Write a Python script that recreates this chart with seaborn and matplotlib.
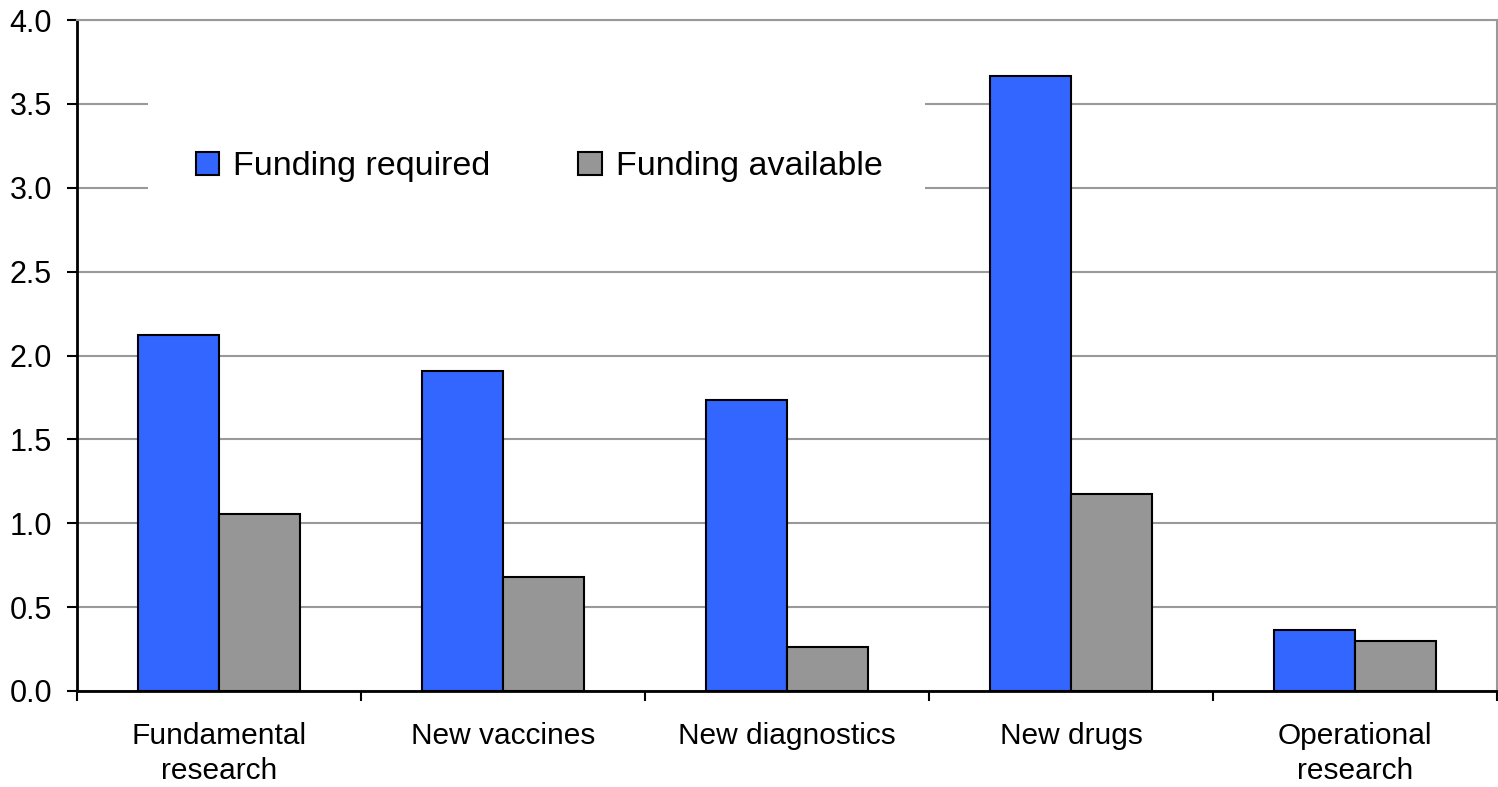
import pandas as pd
import numpy as np
import matplotlib
matplotlib.use("Agg")
import matplotlib.pyplot as plt
from matplotlib.patches import Rectangle
import seaborn as sns

# data
categories = ["Fundamental\nresearch", "New vaccines", "New diagnostics", "New drugs", "Operational\nresearch"]
funding_required = [2.12, 1.91, 1.735, 3.665, 0.365]
funding_available = [1.055, 0.68, 0.26, 1.175, 0.30]
series_names = ["Funding required", "Funding available"]
colors = ["#3366FF", "#969696"]

df = pd.DataFrame({
    "category": categories * 2,
    "value": funding_required + funding_available,
    "series": [series_names[0]] * len(categories) + [series_names[1]] * len(categories),
})

sns.set_style("white")
plt.rcParams['font.family'] = ['Liberation Sans', 'DejaVu Sans']
plt.rcParams['text.color'] = 'black'
plt.rcParams['xtick.color'] = 'black'
plt.rcParams['ytick.color'] = 'black'

fig = plt.figure(figsize=(14.98, 7.87), dpi=100)
ax = fig.add_axes([77 / 1498, 1 - 691 / 787, 1420 / 1498, 671 / 787])

sns.barplot(data=df, x="category", y="value", hue="series", palette=colors,
            saturation=1, width=0.57, edgecolor="black", linewidth=1.5, ax=ax, zorder=3)

# y axis
ax.set_ylim(0, 4.0)
ax.set_yticks(np.arange(0, 4.01, 0.5))
ax.set_yticklabels([f"{v:.1f}" for v in np.arange(0, 4.01, 0.5)], fontsize=22)
ax.yaxis.grid(True, color="#999999", linewidth=1.5)
ax.set_axisbelow(True)

# x axis: ticks at category boundaries, labels at centres
ax.set_xlim(-0.5, len(categories) - 0.5)
ax.set_xticks(np.arange(-0.5, len(categories), 1.0))
ax.set_xticklabels([])
ax.set_xticks(np.arange(len(categories)), minor=True)
ax.set_xticklabels(categories, minor=True, fontsize=21.5, linespacing=1.35)
ax.tick_params(axis="x", which="minor", length=0, pad=22)
ax.tick_params(axis="both", which="major", direction="out", length=7, width=1.5, color="black")
ax.tick_params(axis="y", pad=11)
ax.tick_params(axis="x", which="major", bottom=True)
ax.tick_params(axis="y", which="major", left=True)

ax.set_xlabel("")
ax.set_ylabel("")

for side in ["left", "bottom"]:
    ax.spines[side].set_color("black")
    ax.spines[side].set_linewidth(2)
ax.spines["top"].set_color("#999999")
ax.spines["top"].set_linewidth(1.5)
ax.spines["right"].set_color("#999999")
ax.spines["right"].set_linewidth(1.5)

# white box behind the legend that hides the gridlines
ax.add_patch(Rectangle(((148 - 77) / 1420, (691 - 235) / 671), (925 - 148) / 1420, 140 / 671,
                       transform=ax.transAxes, facecolor="white", edgecolor="none", zorder=1))

leg = ax.legend(loc="center left", bbox_to_anchor=((148 - 77) / 1420, (691 - 167) / 671), ncol=2,
                fontsize=24.5, frameon=False,
                handlelength=0.68, handleheight=0.68, handletextpad=0.41,
                columnspacing=2.6, borderpad=1.4, borderaxespad=0)
for h in leg.legend_handles:
    h.set_edgecolor("black")
    h.set_linewidth(1.5)

fig.savefig("out.png", dpi=100)
